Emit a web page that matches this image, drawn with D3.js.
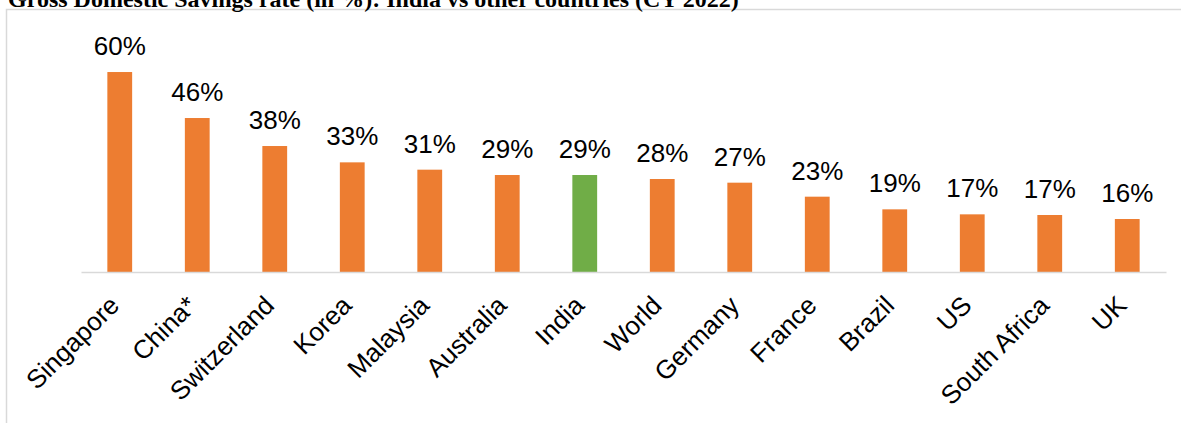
<!DOCTYPE html>
<html>
<head>
<meta charset="utf-8">
<script src="https://cdn.jsdelivr.net/npm/d3@7"></script>
<style>
  body { margin: 0; background: #fff; }
  svg { display: block; }
</style>
</head>
<body>
<svg id="chart" width="1181" height="423"></svg>
<script>
const title = "Gross Domestic Savings rate (in %): India vs other countries (CY 2022)";
const countries = ["Singapore", "China*", "Switzerland", "Korea", "Malaysia", "Australia", "India",
                   "World", "Germany", "France", "Brazil", "US", "South Africa", "UK"];
const savingsRate = [60, 46.2, 37.8, 32.9, 30.7, 29.1, 29.1, 27.9, 26.8, 22.6, 18.8, 17.3, 17.1, 15.9];
const highlight = "India";

const svg = d3.select("#chart");

// frame around the chart area
svg.append("rect")
    .attr("x", 6.5).attr("y", 9.5)
    .attr("width", 1200).attr("height", 500)
    .attr("fill", "none")
    .attr("stroke", "#d9d9d9")
    .attr("stroke-width", 1.5);

// title, partly cut off at the top
svg.append("text")
    .attr("x", 8).attr("y", 7)
    .attr("font-family", "Liberation Serif, Times New Roman, serif")
    .attr("font-weight", "bold")
    .attr("font-size", 24)
    .attr("fill", "#000")
    .text(title);

const data = countries.map((c, i) => ({ country: c, value: savingsRate[i] }));

const x = d3.scaleBand()
    .domain(countries)
    .range([81, 1166])
    .paddingInner(0.68)
    .paddingOuter(0.34);

const y = d3.scaleLinear()
    .domain([0, 70])
    .range([272, 38.7]);

// bars
svg.selectAll(".bar")
    .data(data)
    .enter().append("rect")
    .attr("class", "bar")
    .attr("x", d => x(d.country))
    .attr("y", d => y(d.value))
    .attr("width", x.bandwidth())
    .attr("height", d => y(0) - y(d.value))
    .attr("fill", d => d.country === highlight ? "#70ad47" : "#ed7d31");

// value labels
const fmt = d3.format(".0f");
svg.selectAll(".val")
    .data(data)
    .enter().append("text")
    .attr("class", "val")
    .attr("x", d => x(d.country) + x.bandwidth() / 2)
    .attr("y", d => y(d.value) - 17)
    .attr("text-anchor", "middle")
    .attr("font-family", "Liberation Sans, Arial, sans-serif")
    .attr("font-size", 26)
    .attr("fill", "#000")
    .text(d => fmt(d.value) + "%");

// x axis
const axis = svg.append("g")
    .attr("transform", `translate(0, ${y(0)})`)
    .call(d3.axisBottom(x).tickSize(0).tickSizeOuter(0).tickPadding(0));

axis.select(".domain")
    .attr("stroke", "#d9d9d9")
    .attr("stroke-width", 1.5);

axis.selectAll(".tick text")
    .attr("font-family", "Liberation Sans, Arial, sans-serif")
    .attr("font-size", 26)
    .attr("fill", "#000")
    .attr("text-anchor", "end")
    .attr("dy", 0)
    .attr("transform", "translate(1, 35) rotate(-45)");
</script>
</body>
</html>
